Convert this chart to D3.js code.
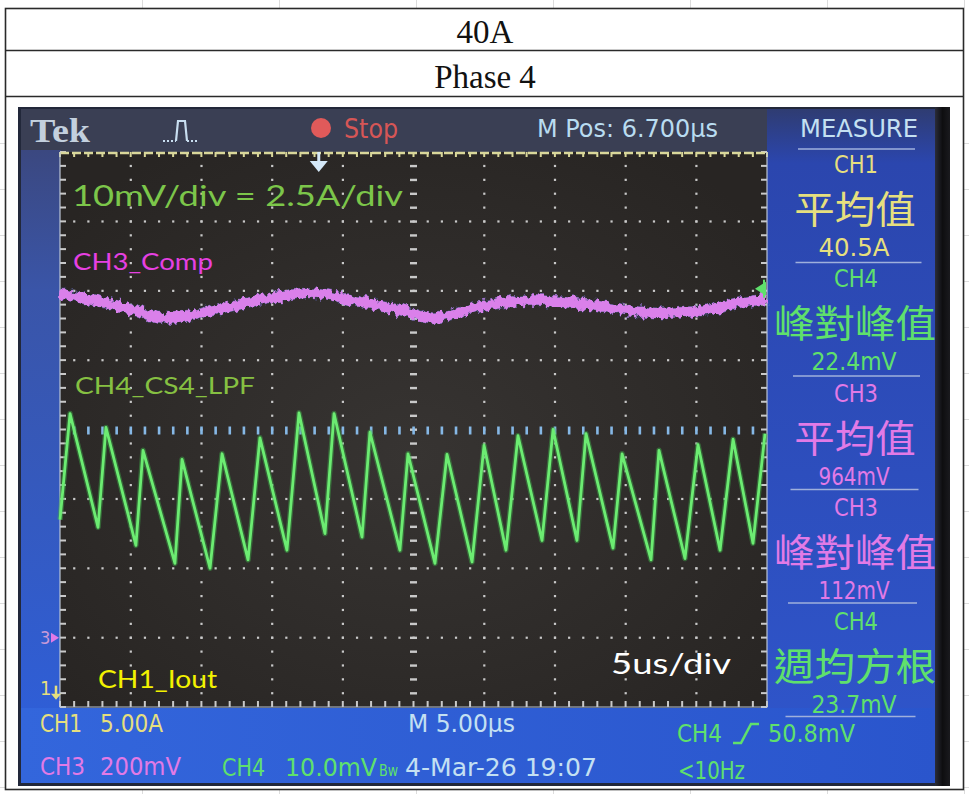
<!DOCTYPE html>
<html>
<head>
<meta charset="utf-8">
<script src="https://d3js.org/d3.v7.min.js"></script>
<style>
body { margin: 0; background: #fff; }
svg { display: block; }
.scope text { font-family: "Liberation Sans Narrow", "DejaVu Sans Condensed", Roboto, sans-serif; }
.scope text.cjk { font-family: "Noto Sans CJK TC", "Noto Sans CJK SC", sans-serif; }
.note { font-family: Lato, "Open Sans", sans-serif; }
.title { font-family: "Liberation Serif", "DejaVu Serif", serif; font-size: 33px; fill: #111; }
</style>
</head>
<body>
<svg id="chart" width="969" height="794"></svg>
<script>
// ---- values ----
var titleRows = ["40A", "Phase 4"];

var timePerDiv = 5;      // us / div
var horizDivs = 10;
var vertDivs = 8;
var mPos = 6.7;          // us, trigger offset from screen centre

// CH3 comp (divisions from centre line)
var ch3Time = [0, 4.2, 7.8, 11.3, 14.9, 17.9, 20.7, 24.3, 26.4, 29.9, 33.5, 37.0, 39.4, 42.2, 45.3, 47.6, 50.0];
var ch3Div  = [1.96, 1.78, 1.60, 1.74, 1.90, 1.97, 1.86, 1.71, 1.61, 1.78, 1.86, 1.81, 1.74, 1.68, 1.71, 1.81, 1.88];

// CH4 CS4 LPF, trough / peak pairs (divisions)
var ch4Time = [0.0, 0.71, 2.69, 3.25, 5.37, 5.87, 8.13, 8.63, 10.61, 11.46, 13.30, 14.14, 16.05, 16.90,
               18.74, 19.38, 21.36, 21.92, 24.04, 24.61, 26.52, 27.37, 29.14, 29.99, 31.54, 32.39,
               34.09, 34.87, 36.56, 37.20, 39.11, 39.75, 41.80, 42.36, 44.20, 45.12, 46.68, 47.60, 49.01, 49.86];
var ch4Div  = [-1.30, 0.23, -1.41, 0.03, -1.67, -0.30, -1.93, -0.43, -2.00, -0.35, -1.88, -0.12, -1.74, 0.24,
               -1.50, 0.23, -1.55, -0.04, -1.74, -0.35, -1.93, -0.36, -1.91, -0.23, -1.74, -0.09,
               -1.60, 0.00, -1.60, -0.06, -1.71, -0.35, -1.88, -0.30, -1.86, -0.22, -1.74, -0.14, -1.64, -0.06];

var ch4TrigLevelDiv = 2.03;
var ch3GroundDiv = -3.0;
var ch1GroundDiv = -3.75;

var measureChannels = ["CH1", "CH4", "CH3", "CH3", "CH4"];
var measureNames    = ["平均值", "峰對峰值", "平均值", "峰對峰值", "週均方根"];
var measureValues   = ["40.5A", "22.4mV", "964mV", "112mV", "23.7mV"];

var ch1Scale = "5.00A", ch3Scale = "200mV", ch4Scale = "10.0mV";
var timebase = "5.00μs", stamp = "4-Mar-26 19:07", trigLevel = "50.8mV", trigFreq = "<10Hz";

var colYellow = "#e6df7e", colGreen = "#5fe06c", colPink = "#e27ae6", colCyan = "#c4e0f2";

var svg = d3.select("#chart");
var defs = svg.append("defs");

// ---- spreadsheet background ----
var sheet = svg.append("g").attr("stroke", "#dcdcdc").attr("stroke-width", 1);
d3.range(142, 969, 137).forEach(function(cx) {
  sheet.append("line").attr("x1", cx + .5).attr("x2", cx + .5).attr("y1", 0).attr("y2", 8);
  sheet.append("line").attr("x1", cx + .5).attr("x2", cx + .5).attr("y1", 790).attr("y2", 794);
});
d3.range(143, 794, 46).forEach(function(ry) {
  sheet.append("line").attr("x1", 0).attr("x2", 5).attr("y1", ry + .5).attr("y2", ry + .5);
  sheet.append("line").attr("x1", 964).attr("x2", 969).attr("y1", ry + .5).attr("y2", ry + .5);
});

// table
var table = svg.append("g").attr("fill", "none").attr("stroke", "#2a2a2a").attr("stroke-width", 1.6);
table.append("rect").attr("x", 5.5).attr("y", 8.5).attr("width", 958).attr("height", 781);
table.append("line").attr("x1", 5.5).attr("x2", 963.5).attr("y1", 50.5).attr("y2", 50.5);
table.append("line").attr("x1", 5.5).attr("x2", 963.5).attr("y1", 96.5).attr("y2", 96.5);
svg.selectAll("text.title").data(titleRows).enter().append("text")
  .attr("class", "title")
  .attr("x", 485).attr("y", function(d, i) { return i ? 88 : 43; })
  .attr("text-anchor", "middle")
  .text(function(d) { return d; });

// ---- scope photo ----
var grad = function(id, stops, x2, y2) {
  var g = defs.append("linearGradient").attr("id", id)
    .attr("x1", 0).attr("y1", 0).attr("x2", x2).attr("y2", y2);
  stops.forEach(function(s) { g.append("stop").attr("offset", s[0]).attr("stop-color", s[1]); });
};
grad("leftStrip", [[0, "#3b4880"], [0.25, "#3a55a8"], [1, "#2f5ed6"]], 0, 1);
grad("rightPanel", [[0, "#2f3c72"], [0.08, "#2b46ae"], [1, "#2f56cc"]], 0, 1);
grad("bottomBar", [[0, "#3366dc"], [1, "#2a55cc"]], 1, 0);
grad("rightEdge", [[0, "#2a2c38"], [0.5, "#0e0e10"], [1, "#1a1a1e"]], 1, 0);
var rg = defs.append("radialGradient").attr("id", "plotBg").attr("cx", "50%").attr("cy", "55%").attr("r", "65%");
rg.append("stop").attr("offset", 0).attr("stop-color", "#373432");
rg.append("stop").attr("offset", 1).attr("stop-color", "#282523");

var rough = defs.append("filter").attr("id", "rough")
  .attr("x", "-5%").attr("y", "-60%").attr("width", "110%").attr("height", "220%");
rough.append("feTurbulence").attr("type", "fractalNoise").attr("baseFrequency", "0.22 0.12")
  .attr("numOctaves", 2).attr("seed", 4).attr("result", "n");
rough.append("feDisplacementMap").attr("in", "SourceGraphic").attr("in2", "n")
  .attr("scale", 10).attr("xChannelSelector", "R").attr("yChannelSelector", "G");
var glow = defs.append("filter").attr("id", "soft");
glow.append("feGaussianBlur").attr("stdDeviation", 0.45);

var scope = svg.append("g").attr("class", "scope");
scope.append("rect").attr("x", 18).attr("y", 107).attr("width", 932).attr("height", 679).attr("fill", "#22283a");
scope.append("rect").attr("x", 21).attr("y", 109).attr("width", 916).attr("height", 44).attr("fill", "#3a3f54");
scope.append("rect").attr("x", 21).attr("y", 150).attr("width", 40).attr("height", 562).attr("fill", "url(#leftStrip)");
scope.append("rect").attr("x", 767).attr("y", 109).attr("width", 170).attr("height", 674).attr("fill", "url(#rightPanel)");
scope.append("rect").attr("x", 21).attr("y", 708).attr("width", 916).attr("height", 75).attr("fill", "url(#bottomBar)");
scope.append("rect").attr("x", 935).attr("y", 107).attr("width", 15).attr("height", 679).attr("fill", "url(#rightEdge)");

// scales
var x = d3.scaleLinear().domain([0, horizDivs * timePerDiv]).range([60, 767]);
var y = d3.scaleLinear().domain([-vertDivs / 2, vertDivs / 2]).range([707, 152]);

scope.append("rect").attr("x", x(0)).attr("y", y(4)).attr("width", x(50) - x(0)).attr("height", y(-4) - y(4))
  .attr("fill", "url(#plotBg)");

// graticule
var grid = scope.append("g").attr("fill", "#c9c9c9").attr("filter", "url(#soft)");
var minorT = d3.range(0, 50.001, timePerDiv / 5);
var minorV = d3.range(-4, 4.001, 0.2);
d3.range(1, horizDivs).filter(function(i) { return i !== 5; }).forEach(function(i) {
  grid.selectAll(null).data(minorV.slice(1, -1)).enter().append("rect")
    .attr("x", x(i * timePerDiv) - 1).attr("y", function(d) { return y(d) - 1; })
    .attr("width", 2.2).attr("height", 2.2);
});
d3.range(-3, 4).filter(function(j) { return j !== 0; }).forEach(function(j) {
  grid.selectAll(null).data(minorT.slice(1, -1)).enter().append("rect")
    .attr("x", function(d) { return x(d) - 1; }).attr("y", y(j) - 1)
    .attr("width", 2.2).attr("height", 2.2);
});
// centre vertical line ticks
grid.selectAll(null).data(minorV.slice(1, -1)).enter().append("rect")
  .attr("x", x(25) - 3.5).attr("y", function(d) { return y(d) - 1; })
  .attr("width", 7).attr("height", 2.4);
// centre horizontal line ticks (blue)
grid.selectAll(null).data(minorT.slice(1, -1)).enter().append("rect")
  .attr("fill", "#86b8e6")
  .attr("x", function(d) { return x(d) - 1.2; }).attr("y", y(0) - 3)
  .attr("width", 2.6).attr("height", 8);
// border ticks
grid.selectAll(null).data(minorV).enter().append("rect")
  .attr("x", x(0)).attr("y", function(d) { return y(d) - 1; }).attr("width", 6).attr("height", 2);
grid.selectAll(null).data(minorV).enter().append("rect")
  .attr("x", x(50) - 6).attr("y", function(d) { return y(d) - 1; }).attr("width", 6).attr("height", 2);
grid.selectAll(null).data(minorT).enter().append("rect")
  .attr("x", function(d) { return x(d) - 1; }).attr("y", y(-4) - 6).attr("width", 2).attr("height", 6);
grid.selectAll(null).data(minorT).enter().append("rect")
  .attr("fill", "#d9d79a")
  .attr("x", function(d) { return x(d) - 1; }).attr("y", y(4)).attr("width", 2).attr("height", 5);
scope.append("line").attr("x1", x(0)).attr("x2", x(50)).attr("y1", y(4) + 1).attr("y2", y(4) + 1)
  .attr("stroke", "#d9d79a").attr("stroke-width", 2.5).attr("stroke-dasharray", "9,3");
scope.append("path")
  .attr("d", "M" + x(0) + "," + y(4) + "V" + y(-4) + "H" + x(50) + "V" + y(4))
  .attr("fill", "none").attr("stroke", "#b9c4d2").attr("stroke-width", 1.2);

// CH3 trace
var line3 = d3.line().x(function(d) { return x(d[0]); }).y(function(d) { return y(d[1]); })
  .curve(d3.curveMonotoneX);
scope.append("path").datum(d3.zip(ch3Time, ch3Div))
  .attr("d", line3).attr("fill", "none").attr("stroke", "#6a7ee8").attr("stroke-width", 11)
  .attr("stroke-opacity", 0.5).attr("filter", "url(#rough)");
scope.append("path").datum(d3.zip(ch3Time, ch3Div))
  .attr("d", line3).attr("fill", "none").attr("stroke", "#da80ea").attr("stroke-width", 10)
  .attr("filter", "url(#rough)");

// CH4 trace
var line4 = d3.line().x(function(d) { return x(d[0]); }).y(function(d) { return y(d[1]); });
var ch4 = d3.zip(ch4Time, ch4Div);
scope.append("path").datum(ch4).attr("d", line4).attr("fill", "none")
  .attr("stroke", "#3fb04a").attr("stroke-width", 5.5).attr("stroke-opacity", 0.45).attr("stroke-linejoin", "round");
scope.append("path").datum(ch4).attr("d", line4).attr("fill", "none")
  .attr("stroke", "#6cec72").attr("stroke-width", 2.8).attr("stroke-linejoin", "round");

// markers
var tx = x(horizDivs * timePerDiv / 2 - mPos);
scope.append("rect").attr("x", tx - 1.5).attr("y", y(4)).attr("width", 3).attr("height", 11).attr("fill", "#d4e8f8");
scope.append("path").attr("d", "M" + (tx - 9) + "," + (y(4) + 9) + "h18l-9,11z").attr("fill", "#d4e8f8");
var ty = y(ch4TrigLevelDiv);
scope.append("path").attr("d", "M" + (x(50) - 12) + "," + ty + "l11,-7v14z").attr("fill", colGreen);
scope.append("rect").attr("x", x(50) - 4).attr("y", ty - 9).attr("width", 2).attr("height", 18).attr("fill", colGreen);
var g3 = y(ch3GroundDiv);
scope.append("text").attr("x", 40).attr("y", g3).attr("dominant-baseline", "central")
  .attr("font-size", 18).attr("fill", "#c89ad8").text("3");
scope.append("path").attr("d", "M51," + (g3 - 5) + "l8,5l-8,5z").attr("fill", colPink);
var g1 = y(ch1GroundDiv);
scope.append("text").attr("x", 40).attr("y", g1 - 2).attr("dominant-baseline", "central")
  .attr("font-size", 20).attr("fill", colYellow).text("1");
scope.append("path").attr("d", "M56," + (g1 - 4) + "v10").attr("stroke", colYellow).attr("stroke-width", 2.5);
scope.append("path").attr("d", "M51," + (g1 + 4) + "h10l-5,6z").attr("fill", colYellow);

// helper for fitted scope text
function label(parent, txt, x0, yc, w, size, color, cls) {
  return parent.append("text").attr("class", cls || null)
    .attr("x", x0).attr("y", yc).attr("dominant-baseline", "central")
    .attr("font-size", size).attr("fill", color)
    .attr("textLength", w).attr("lengthAdjust", "spacingAndGlyphs")
    .text(txt);
}

// top bar
scope.append("text").attr("x", 30).attr("y", 142).attr("font-size", 33).attr("font-weight", "bold")
  .style("font-family", "'Liberation Serif', serif").attr("fill", "#c3d0de")
  .attr("textLength", 60).attr("lengthAdjust", "spacingAndGlyphs").text("Tek");
scope.append("path").attr("d", "M163,141H176M187,141H197").attr("stroke", "#c8def0")
  .attr("stroke-width", 2).attr("stroke-dasharray", "2,2");
scope.append("path").attr("d", "M176,141L178,121H185L187,141").attr("fill", "none")
  .attr("stroke", "#c8def0").attr("stroke-width", 2.2);
scope.append("circle").attr("cx", 321).attr("cy", 128).attr("r", 10).attr("fill", "#e05a5a");
label(scope, "Stop", 344, 129, 54, 26, "#d65656");
label(scope, "M Pos: " + mPos.toFixed(3) + "μs", 537, 128, 181, 25, "#b9dcf0");
label(scope, "MEASURE", 800, 128, 118, 25, colCyan);

// measure panel
var pitch = 114.3;
var sepG = scope.append("g").attr("stroke", "#9fb0dc").attr("stroke-width", 1.6);
d3.range(6).forEach(function(i) {
  sepG.append("line").attr("x1", 798 - i * 2.5).attr("x2", 915 + (i > 0 ? 8 - i * 1.5 : 0))
    .attr("y1", 149 + i * 113.5).attr("y2", 149 + i * 113.5);
});
var chanCol = {"CH1": colYellow, "CH3": colPink, "CH4": colGreen};
measureChannels.forEach(function(ch, i) {
  var top = 166 + i * pitch, c = chanCol[ch];
  var nameW = measureNames[i].length * 40.5;
  label(scope, ch, 834, top - 1, 44, 24, c);
  label(scope, measureNames[i], 855 - nameW / 2, top + 40.5, nameW, 38, c, "cjk");
  var vw = measureValues[i].length * 14.2;
  label(scope, measureValues[i], 854 - vw / 2, top + 82, vw, 24, c);
});

// bottom bar
label(scope, "CH1", 40, 723, 42, 25, colYellow);
label(scope, ch1Scale, 100, 723, 63, 25, colYellow);
label(scope, "M " + timebase, 408, 723, 107, 25, colCyan);
label(scope, "CH3", 40, 766, 45, 25, colPink);
label(scope, ch3Scale, 100, 766, 81, 25, colPink);
label(scope, "CH4", 222, 767, 43, 25, colGreen);
label(scope, ch4Scale, 285, 767, 92, 25, colGreen);
label(scope, "Bw", 379, 771, 19, 15, colGreen);
label(scope, stamp, 405, 767, 192, 25, colCyan);
label(scope, "CH4", 677, 733, 45, 25, colGreen);
scope.append("path").attr("d", "M733,743H741L751,724H759").attr("fill", "none")
  .attr("stroke", colGreen).attr("stroke-width", 2.6);
label(scope, trigLevel, 768, 733, 87, 25, colGreen);
label(scope, trigFreq, 678, 770, 67, 25, colGreen);

// ---- overlaid notes ----
var notes = svg.append("g").attr("class", "note");
function note(txt, x0, yb, w, size, color) {
  notes.append("text").attr("x", x0).attr("y", yb).attr("font-size", size).attr("fill", color)
    .attr("textLength", w).attr("lengthAdjust", "spacingAndGlyphs").text(txt);
}
note("10mV/div = 2.5A/div", 72, 206, 331, 29, "#7cc64a");
note("CH3_Comp", 73, 270, 140, 23, "#e640e2");
note("CH4_CS4_LPF", 75, 394, 180, 23, "#86c042");
note("CH1_Iout", 98, 688, 119, 25, "#f2f200");
note("5us/div", 611, 674, 120, 29, "#ffffff");
</script>
</body>
</html>
